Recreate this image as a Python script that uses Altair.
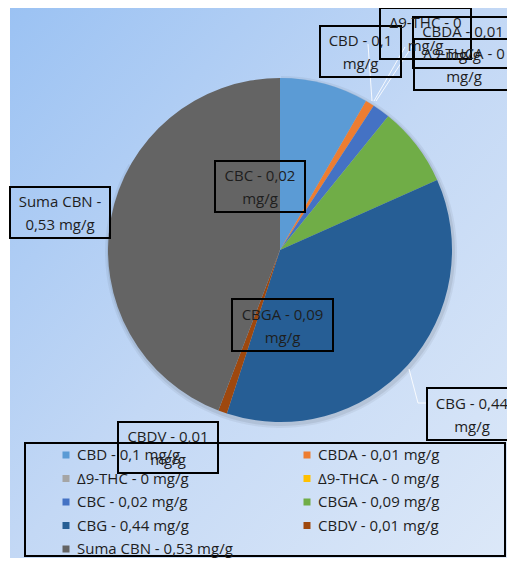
import altair as alt
import pandas as pd

# ---- data ----
names = ["CBD", "CBDA", "Δ9-THC", "Δ9-THCA", "CBC", "CBGA", "CBG", "CBDV", "Suma CBN"]
values = [0.1, 0.01, 0, 0, 0.02, 0.09, 0.44, 0.01, 0.53]
value_text = ["0,1", "0,01", "0", "0", "0,02", "0,09", "0,44", "0,01", "0,53"]
colors = ["#5b9bd5", "#ed7d31", "#a5a5a5", "#ffc000", "#4472c4",
          "#70ad47", "#265e95", "#9e480e", "#646464"]

# data-label lines (two lines per label, as in the reference)
label_line1 = ["CBD - 0,1", "CBDA - 0,01", "Δ9-THC - 0", "Δ9-THCA - 0", "CBC - 0,02",
               "CBGA - 0,09", "CBG - 0,44", "CBDV - 0,01", "Suma CBN -"]
label_line2 = ["mg/g", "mg/g", "mg/g", "mg/g", "mg/g", "mg/g", "mg/g", "mg/g", "0,53 mg/g"]

# ---- layout (page pixels) ----
OX, OY = 8, 8
W, H = 499, 550
CX, CY, R = 280, 250, 172
FONT, FS, LH = "Open Sans", 15, 23
TXT = "#1e1e1e"
# label boxes: x1, y1, x2, y2 (page pixels)
label_boxes = [
    (320, 26, 401, 77),   # CBD
    (413, 17, 513, 68),   # CBDA
    (380, 8, 471, 59),    # THC
    (414, 39, 514, 90),   # THCA
    (215, 161, 305, 212), # CBC
    (232, 299, 333, 351), # CBGA
    (427, 388, 517, 440), # CBG
    (118, 422, 218, 473), # CBDV
    (10, 187, 110, 238),  # Suma CBN
]
leaders = [
    (368, 44, 372, 101),
    (405, 47, 374, 101),
    (413, 45, 376, 101),
    (409, 369, 418, 403),
    (418, 403, 427, 403),
]

pie_df = pd.DataFrame({"name": names, "value": values, "idx": list(range(len(names)))})

lab_rows = []
for i, n in enumerate(names):
    x1, y1, x2, y2 = label_boxes[i]
    lab_rows.append({
        "x1": x1 - OX, "x2": x2 - OX, "y1": y1 - OY, "y2": y2 - OY,
        "tx": (x1 + x2) / 2 - OX, "ty": (y1 + y2) / 2 - OY - LH / 2 + 1,
        "label": label_line1[i] + "\n" + label_line2[i],
    })
lab_df = pd.DataFrame(lab_rows)

lead_df = pd.DataFrame([{"x": a - OX, "y": b - OY, "x2": c - OX, "y2": d - OY}
                        for a, b, c, d in leaders])

# legend items, row-major in two columns
leg_rows = []
for i, n in enumerate(names):
    r, c = divmod(i, 2)
    leg_rows.append({
        "sx": (66 if c == 0 else 307) - OX,
        "tx": (77 if c == 0 else 318) - OX,
        "y": 455 + 23.5 * r - OY,
        "col": colors[i],
        "text": f"{n} - {value_text[i]} mg/g",
    })
leg_df = pd.DataFrame(leg_rows)

one = pd.DataFrame({"v": [1]})

bg = alt.Chart(one).mark_rect(
    color=alt.Gradient(gradient="linear",
                       stops=[alt.GradientStop(color="#9bc2f3", offset=0),
                              alt.GradientStop(color="#c3d8f5", offset=0.5),
                              alt.GradientStop(color="#dce8f8", offset=1)],
                       x1=0, y1=0, x2=1, y2=1)
).encode(x=alt.value(2), x2=alt.value(W), y=alt.value(0), y2=alt.value(H))

shadow1 = alt.Chart(one).mark_arc(radius=R + 4, color="#000000", opacity=0.05).encode(
    theta=alt.Theta("v:Q"), x=alt.value(CX - OX + 1), y=alt.value(CY - OY + 2))
shadow2 = alt.Chart(one).mark_arc(radius=R + 2, color="#000000", opacity=0.07).encode(
    theta=alt.Theta("v:Q"), x=alt.value(CX - OX + 1), y=alt.value(CY - OY + 2))

pie = alt.Chart(pie_df).mark_arc(radius=R).encode(
    theta=alt.Theta("value:Q", stack=True),
    color=alt.Color("name:N", scale=alt.Scale(domain=names, range=colors), legend=None),
    order=alt.Order("idx:Q"),
    x=alt.value(CX - OX), y=alt.value(CY - OY),
)

lead = alt.Chart(lead_df).mark_rule(color="white", strokeWidth=1, opacity=0.85).encode(
    x=alt.X("x:Q", scale=None), y=alt.Y("y:Q", scale=None),
    x2="x2:Q", y2="y2:Q")

leg_box = alt.Chart(one).mark_rect(fillOpacity=0, stroke="black", strokeWidth=2).encode(
    x=alt.value(25 - OX), x2=alt.value(W - 2), y=alt.value(443 - OY), y2=alt.value(H - 2))

leg_sym = alt.Chart(leg_df).mark_square(size=49, opacity=1).encode(
    x=alt.X("sx:Q", scale=None), y=alt.Y("y:Q", scale=None),
    color=alt.Color("col:N", scale=None))

leg_txt = alt.Chart(leg_df).mark_text(
    font=FONT, fontSize=FS, align="left", baseline="middle", color=TXT
).encode(x=alt.X("tx:Q", scale=None), y=alt.Y("y:Q", scale=None), text="text:N")

lab_box = alt.Chart(lab_df).mark_rect(fillOpacity=0, stroke="black", strokeWidth=2).encode(
    x=alt.X("x1:Q", scale=None), x2="x2:Q",
    y=alt.Y("y1:Q", scale=None), y2="y2:Q")

lab_txt = alt.Chart(lab_df).mark_text(
    font=FONT, fontSize=FS, align="center", baseline="middle",
    lineBreak="\n", lineHeight=LH, color=TXT
).encode(x=alt.X("tx:Q", scale=None), y=alt.Y("ty:Q", scale=None), text="label:N")

chart = alt.layer(bg, shadow1, shadow2, pie, lead, leg_box, leg_sym, leg_txt, lab_box, lab_txt).properties(
    width=W, height=H, padding=0, autosize="none"
).configure_view(stroke=None)

chart.save("out.html", embed_options={"renderer": "svg", "actions": False})
